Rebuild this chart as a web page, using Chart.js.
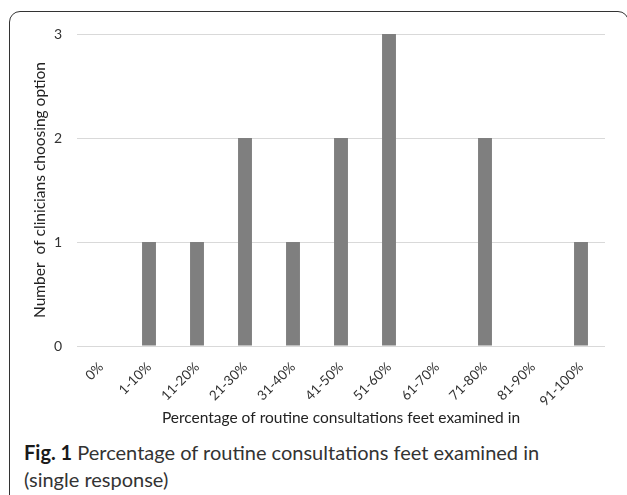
<!DOCTYPE html>
<html><head><meta charset="utf-8">
<script src="https://cdn.jsdelivr.net/npm/chart.js@4"></script>
<style>
html,body{margin:0;padding:0;background:#fff;width:627px;height:495px;overflow:hidden;}
#frame{position:absolute;left:9px;top:11px;width:620px;height:500px;border:1.5px solid #333;border-radius:11px;box-sizing:border-box;}
#wrap{position:absolute;left:0;top:0;width:627px;height:430px;}
#cap{position:absolute;left:24px;top:439px;font-family:Lato,sans-serif;font-size:20px;line-height:27px;color:#333;white-space:nowrap;}
#cap b{font-weight:700;color:#1a1a1a;}
</style></head>
<body>
<div id="frame"></div>
<div id="wrap"><canvas id="c"></canvas></div>
<div id="cap"><b>Fig. 1</b> Percentage of routine consultations feet examined in<br>(single response)</div>
<script>
const categories = ["0%","1-10%","11-20%","21-30%","31-40%","41-50%","51-60%","61-70%","71-80%","81-90%","91-100%"];
const counts = [0,1,1,2,1,2,3,0,2,0,1];
const yTicks = [0,1,2,3];
const xTitle = "Percentage of routine consultations feet examined in";
const yTitle = "Number  of clinicians choosing option";

new Chart(document.getElementById('c'), {
  type: 'bar',
  data: { labels: categories, datasets: [{ data: counts, backgroundColor: '#7f7f7f', borderWidth:0, barPercentage: 0.29, categoryPercentage: 1.0 }] },
  options: {
    responsive: true, maintainAspectRatio: false, animation: false,
    layout: { padding: { left: 0, right: 22, top: 34, bottom: 0 } },
    plugins: { legend: { display: false }, tooltip: { enabled: false } },
    scales: {
      x: {
        afterFit: (s) => { s.height = 84; },
        grid: { display: false },
        border: { display: false },
        ticks: { maxRotation: 45, minRotation: 45, color: '#333', font: { family: 'Lato', size: 13.5 }, padding: 5 },
        title: { display: true, text: xTitle, color: '#222', font: { family: 'Lato', size: 15.5 }, padding: { top: 0, bottom: 3 } }
      },
      y: {
        min: 0, max: 3,
        afterFit: (s) => { s.width = 77; },
        afterBuildTicks: (s) => { s.ticks = yTicks.map(v => ({ value: v })); },
        grid: { color: '#d9d9d9', drawTicks: false, lineWidth: 1 },
        border: { display: false },
        ticks: { color: '#333', font: { family: 'Lato', size: 14 }, padding: 15 },
        title: { display: true, text: yTitle, color: '#222', font: { family: 'Lato', size: 15.5 }, padding: { top: 31, bottom: 0 } }
      }
    }
  }
});
</script>
</body></html>
